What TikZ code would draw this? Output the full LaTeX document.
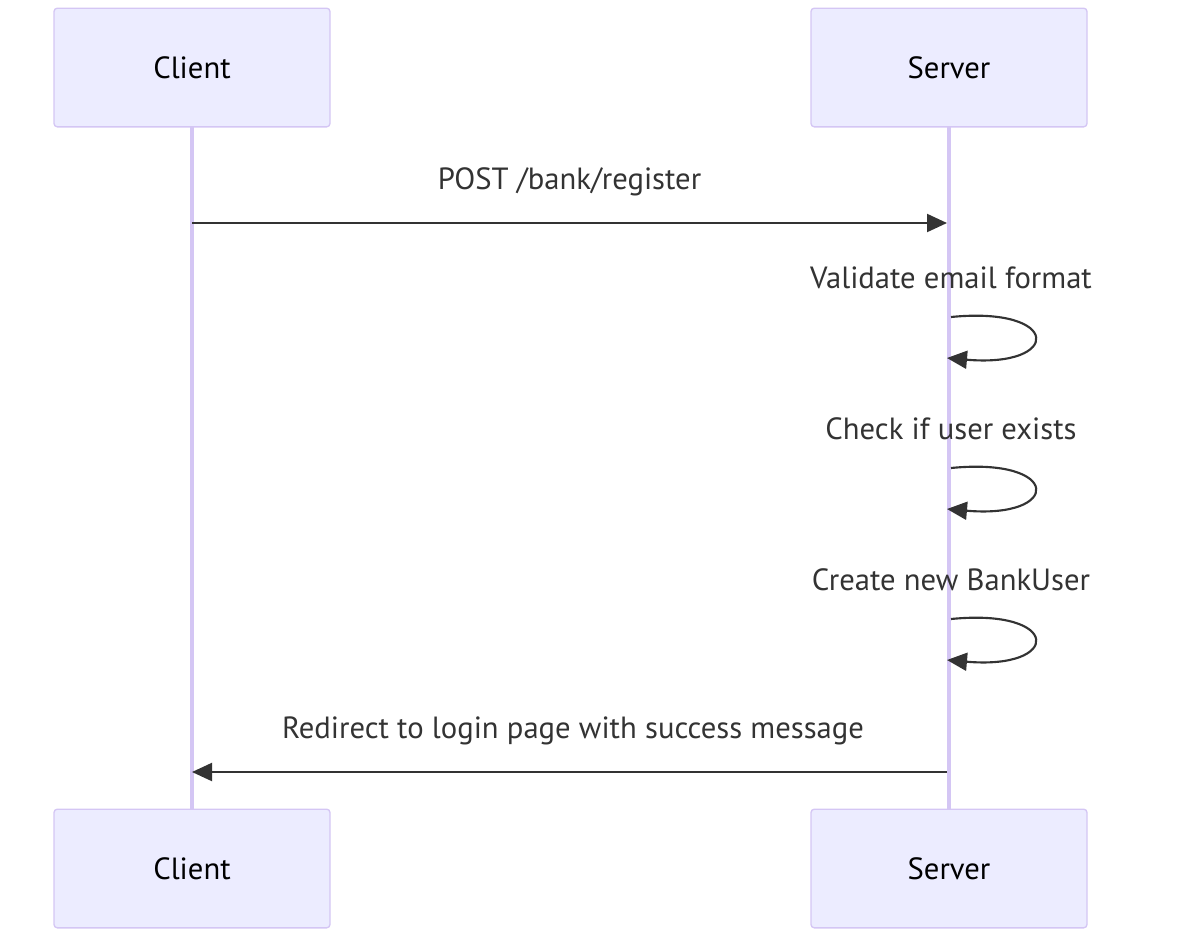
\documentclass[tikz,border=0pt]{standalone}
\usepackage{fontspec}
\setmainfont{PT Sans}
\usepackage{tikz}
\usetikzlibrary{arrows.meta}

\definecolor{actorfill}{HTML}{ECECFF}
\definecolor{actorline}{HTML}{D4C6F4}
\definecolor{msgline}{HTML}{333333}

\begin{document}
\begin{tikzpicture}[x=0.75pt,y=-0.75pt]
            \useasboundingbox (0,0) rectangle (1182,950);

            % lifelines
            \coordinate (cltop) at (192,127);
            \coordinate (clbot) at (192,809);
            \coordinate (svtop) at (949,127);
            \coordinate (svbot) at (949,809);
            \draw[actorline,line width=2.3pt] (cltop) -- (clbot);
            \draw[actorline,line width=2.3pt] (svtop) -- (svbot);

            \begin{scope}[every node/.style={rectangle,rounded corners=2.5pt,draw=actorline,
                          fill=actorfill,line width=1pt,minimum width=207pt,minimum height=89pt,
                          font=\fontsize{23}{26}\selectfont,text=black}]
                \node (client) at (192,67.5) {Client};
                \node (server) at (949,67.5) {Server};
                \node (clientb) at (192,868.5) {Client};
                \node (serverb) at (949,868.5) {Server};
            \end{scope}

            \begin{scope}[>={Triangle[length=15pt,width=13.5pt]},
                          every node/.style={text=msgline,font=\fontsize{23}{26}\selectfont},
                          every path/.style={draw=msgline,fill=none,line width=1.6pt}]
                \coordinate (m1a) at (192,223);
                \coordinate (m1b) at (947,223);
                \path[->] (m1a) -- (m1b);
                \node (l1) at (569.5,182) {POST /bank/register};

                \node (l2) at (951,278) {Validate email format};
                \coordinate (s2a) at (951,317);
                \coordinate (s2b) at (947,358);
                \path[->] (s2a) .. controls (1062,306) and (1062,368) .. (s2b);

                \node (l3) at (951,429) {Check if user exists};
                \coordinate (s3a) at (951,468);
                \coordinate (s3b) at (947,509);
                \path[->] (s3a) .. controls (1062,457) and (1062,519) .. (s3b);

                \node (l4) at (951,580) {Create new BankUser};
                \coordinate (s4a) at (951,619);
                \coordinate (s4b) at (947,660);
                \path[->] (s4a) .. controls (1062,608) and (1062,670) .. (s4b);

                \coordinate (m5a) at (947,772);
                \coordinate (m5b) at (192,772);
                \path[->] (m5a) -- (m5b);
                \node (l5) at (573,731) {Redirect to login page with success message};
            \end{scope}
\end{tikzpicture}
\end{document}
